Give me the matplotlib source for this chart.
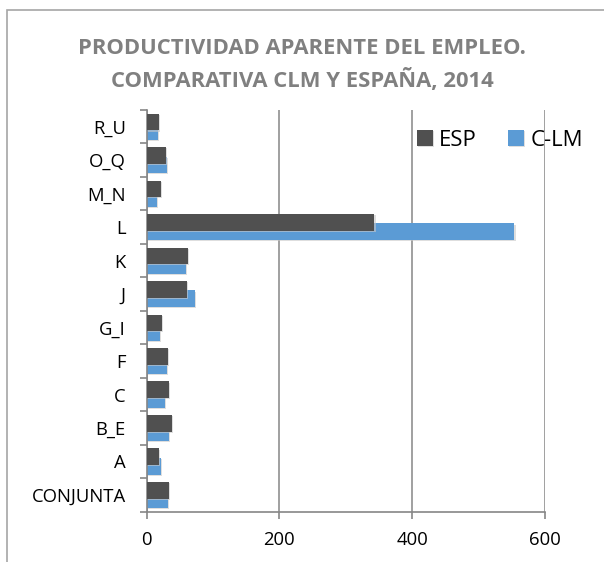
import matplotlib
matplotlib.use("Agg")
import matplotlib.pyplot as plt
import numpy as np
from matplotlib.patches import Rectangle
import matplotlib.patheffects as pe

categories = ["CONJUNTA", "A", "B_E", "C", "F", "G_I", "J", "K", "L", "M_N", "O_Q", "R_U"]
esp = [34, 18.6, 37.7, 34, 32, 23.6, 60.3, 62.8, 343, 21.5, 29, 18.5]
clm = [31.6, 21.1, 34, 28, 30.7, 19.6, 72.4, 58.8, 554, 16, 30, 16.5]
xticks = [0, 200, 400, 600]

plt.rcParams['font.family'] = ['Open Sans', 'DejaVu Sans']

fig = plt.figure(figsize=(6.04, 5.62), dpi=100)
fig.patches.append(Rectangle((7/604, -0.1), 1.2, 1 - 10/562 + 0.1, transform=fig.transFigure,
                             fill=False, edgecolor='#A6A6A6', linewidth=1.2))

ax = fig.add_axes([146.7/604, 1 - 511.7/562, (545 - 146.7)/604, (511.7 - 110)/562])
y = np.arange(len(categories))
h = 0.5
off = 0.14
shadow = [pe.SimplePatchShadow(offset=(0.8, -0.8), shadow_rgbFace='#C8C8C8', alpha=0.6), pe.Normal()]
b2 = ax.barh(y - off, clm, height=h, color='#5B9BD5', label='C-LM', zorder=2)
b1 = ax.barh(y + off, esp, height=h, color='#505050', label='ESP', zorder=3)
for b in list(b2) + list(b1):
    b.set_path_effects(shadow)

ax.set_xlim(0, 600)
ax.set_ylim(-0.5, len(categories) - 0.5)
ax.set_xticks(xticks)
ax.set_xticklabels([str(v) for v in xticks])
ax.set_yticks(y)
ax.set_yticklabels(categories)
ax.set_yticks(np.arange(-0.5, len(categories), 1), minor=True)
ax.tick_params(axis='y', which='major', length=0, pad=15, labelsize=13.3, labelcolor='#000000')
ax.tick_params(axis='y', which='minor', length=5, width=1.2, color='#868686', direction='out')
ax.tick_params(axis='x', which='major', length=5, width=1.2, color='#868686', pad=9,
               labelsize=13.3, labelcolor='#000000')
ax.grid(axis='x', color='#868686', linewidth=1.1, zorder=0)
ax.set_axisbelow(True)
for s in ['top', 'right']:
    ax.spines[s].set_visible(False)
for s in ['left', 'bottom']:
    ax.spines[s].set_color('#868686')
    ax.spines[s].set_linewidth(1.2)

fig.text(302/604, 1 - 48/562, "PRODUCTIVIDAD APARENTE DEL EMPLEO.", ha='center', va='center',
         fontsize=15.8, fontweight='bold', color='#808080')
fig.text(302/604, 1 - 80/562, "COMPARATIVA CLM Y ESPAÑA, 2014", ha='center', va='center',
         fontsize=15.8, fontweight='bold', color='#808080')

leg = ax.legend(handles=[b1, b2], loc='center', bbox_to_anchor=((500 - 146.7) / (545 - 146.7), (511.7 - 140) / (511.7 - 110)),
                ncol=2, frameon=False, fontsize=16, handlelength=0.7, handleheight=0.7,
                handletextpad=0.3, columnspacing=1.4, borderpad=0)
for t in leg.get_texts():
    t.set_color('#000000')

fig.savefig("out.png", dpi=100)
